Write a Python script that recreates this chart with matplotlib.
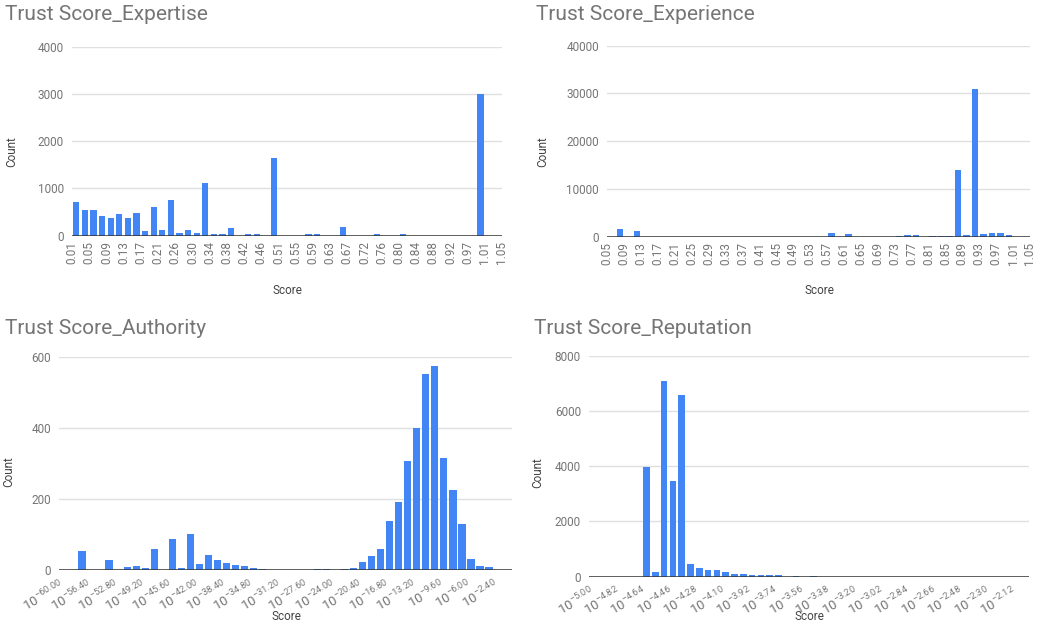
import numpy as np
import matplotlib.pyplot as plt

plt.rcParams['font.family'] = ['Roboto', 'DejaVu Sans']
plt.rcParams['mathtext.fontset'] = 'custom'
plt.rcParams['mathtext.rm'] = 'Roboto'

# histogram counts, 50 buckets per chart
expertise_counts = [720, 540, 545, 415, 380, 450, 380, 485, 100, 610,
                    115, 765, 50, 115, 50, 1105, 30, 30, 160, 0,
                    30, 30, 0, 1650, 0, 0, 0, 30, 30, 0,
                    0, 180, 0, 0, 0, 30, 0, 0, 30, 0,
                    0, 0, 0, 0, 0, 0, 0, 3000, 0, 0]
expertise_ticks = ['0.01', '0.05', '0.09', '0.13', '0.17', '0.21', '0.26', '0.30', '0.34',
                   '0.38', '0.42', '0.46', '0.51', '0.55', '0.59', '0.63', '0.67', '0.72',
                   '0.76', '0.80', '0.84', '0.88', '0.92', '0.97', '1.01', '1.05']

experience_counts = [0, 1600, 0, 1200, 0, 0, 0, 0, 0, 0,
                     0, 0, 0, 0, 0, 0, 0, 0, 0, 0,
                     0, 0, 0, 0, 0, 0, 850, 0, 550, 0,
                     0, 0, 0, 0, 230, 380, 380, 0, 200, 200,
                     200, 13900, 380, 31000, 550, 800, 800, 380, 0, 0]
experience_ticks = ['0.05', '0.09', '0.13', '0.17', '0.21', '0.25', '0.29', '0.33', '0.37',
                    '0.41', '0.45', '0.49', '0.53', '0.57', '0.61', '0.65', '0.69', '0.73',
                    '0.77', '0.81', '0.85', '0.89', '0.93', '0.97', '1.01', '1.05']

authority_counts = [0, 0, 53, 0, 0, 28, 0, 8, 12, 6,
                    59, 0, 87, 6, 101, 17, 42, 28, 20, 15,
                    12, 6, 3, 1, 1, 1, 1, 1, 3, 3,
                    0, 3, 6, 22, 39, 58, 139, 192, 307, 400,
                    552, 575, 316, 225, 129, 31, 11, 8, 1, 1]
authority_exps = ['-60.00', '-56.40', '-52.80', '-49.20', '-45.60', '-42.00', '-38.40',
                  '-34.80', '-31.20', '-27.60', '-24.00', '-20.40', '-16.80', '-13.20',
                  '-9.60', '-6.00', '-2.40']

reputation_counts = [0, 0, 0, 0, 0, 0, 3980, 165, 7080, 3460,
                     6590, 455, 325, 260, 258, 185, 105, 100, 70, 60,
                     48, 45, 0, 36, 0, 36, 0, 0, 0, 0,
                     0, 0, 0, 0, 0, 0, 0, 0, 0, 0,
                     0, 0, 0, 0, 0, 0, 0, 0, 0, 0]
reputation_exps = ['-5.00', '-4.82', '-4.64', '-4.46', '-4.28', '-4.10', '-3.92', '-3.74',
                   '-3.56', '-3.38', '-3.20', '-3.02', '-2.84', '-2.66', '-2.48', '-2.30',
                   '-2.12']

BLUE = '#4285F4'
W, H = 1046, 625
fig = plt.figure(figsize=(W / 100, H / 100), dpi=100)


def px_axes(left, top, right, bottom):
    return fig.add_axes([left / W, 1 - bottom / H, (right - left) / W, (bottom - top) / H])


def px_text(x, y, s, **kw):
    fig.text(x / W, 1 - y / H, s, **kw)


def histogram(ax, counts, ymax, ystep, tick_step, labels, width, log_labels):
    counts = np.asarray(counts)
    pos = np.arange(len(counts)) + 0.5
    ax.bar(pos, counts, width=width, color=BLUE, zorder=3)
    ax.set_xlim(0, len(counts))
    ax.set_ylim(0, ymax)
    ax.set_yticks(np.arange(0, ymax + 1, ystep))
    ax.yaxis.grid(True, color='#e0e0e0', lw=1, zorder=0)
    ax.axhline(0, color='#333333', lw=1.1, zorder=4)
    for s in ax.spines.values():
        s.set_visible(False)
    ax.tick_params(length=0, labelsize=8.5, colors='#757575')
    ax.tick_params(axis='y', pad=6)
    ticks = np.arange(0, len(counts) + 1, tick_step)[:len(labels)]
    ax.set_xticks(ticks)
    if log_labels:
        texts = [r'$\mathregular{10^{%s}}$' % e for e in labels]
        ax.set_xticklabels(texts, rotation=30, ha='right', va='top',
                           rotation_mode='anchor', fontsize=9.5)
        ax.tick_params(axis='x', pad=5)
    else:
        ax.set_xticklabels(labels, rotation=90, ha='center', va='top')
        ax.tick_params(axis='x', pad=4)


ax1 = px_axes(72, 46.7, 502, 235.7)
histogram(ax1, expertise_counts, 4000, 1000, 2, expertise_ticks, 0.74, False)
ax2 = px_axes(607.3, 45.7, 1030, 236.7)
histogram(ax2, experience_counts, 40000, 10000, 2, experience_ticks, 0.78, False)
ax3 = px_axes(59.3, 357, 511.7, 570)
histogram(ax3, authority_counts, 600, 200, 3, authority_exps, 0.8, True)
ax4 = px_axes(589.3, 355.7, 1029.3, 576.7)
histogram(ax4, reputation_counts, 8000, 2000, 3, reputation_exps, 0.76, True)

title_kw = dict(fontsize=15, color='#757575', ha='left', va='center')
px_text(5, 15, 'Trust Score_Expertise', **title_kw)
px_text(536, 15, 'Trust Score_Experience', **title_kw)
px_text(5, 329, 'Trust Score_Authority', **title_kw)
px_text(534, 329, 'Trust Score_Reputation', **title_kw)

label_kw = dict(fontsize=8.5, color='#444444', ha='center', va='center')
px_text(287, 291, 'Score', **label_kw)
px_text(819, 291, 'Score', **label_kw)
px_text(286, 617, 'Score', **label_kw)
px_text(809, 617, 'Score', **label_kw)
px_text(12, 152, 'Count', rotation=90, **label_kw)
px_text(543, 152, 'Count', rotation=90, **label_kw)
px_text(9, 472, 'Count', rotation=90, **label_kw)
px_text(538, 473, 'Count', rotation=90, **label_kw)

fig.savefig('out.png', dpi=100, facecolor='white')
